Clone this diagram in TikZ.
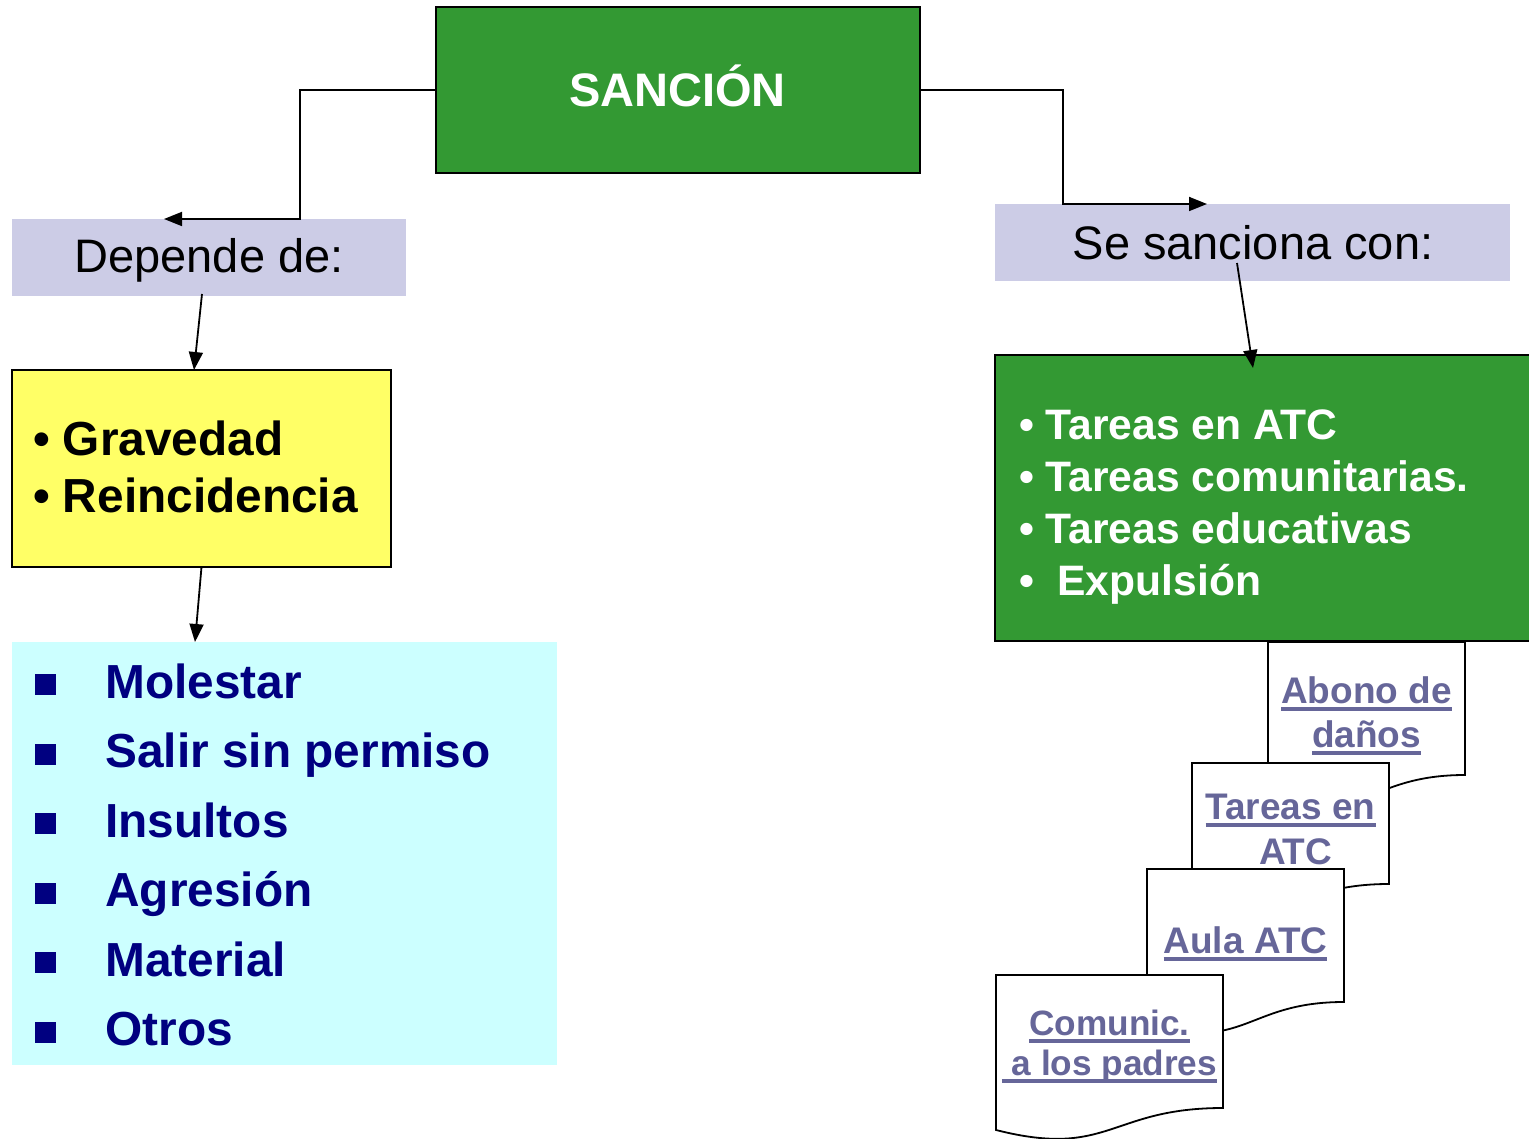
\documentclass[tikz,border=0pt]{standalone}
\usepackage{fontspec}
\setmainfont{Liberation Sans}
\usetikzlibrary{arrows.meta}
\definecolor{grn}{HTML}{339933}
\definecolor{lav}{HTML}{CCCCE6}
\definecolor{yel}{HTML}{FFFF66}
\definecolor{cyn}{HTML}{CCFFFF}
\definecolor{nvy}{HTML}{000080}
\definecolor{dtx}{HTML}{666699}
\newcommand\ulx[1]{\setbox0\hbox{#1}\rlap{\vrule height -4pt depth 7.5pt width \wd0}\box0}
\newcommand\sqb{\makebox[70.4pt][l]{\raisebox{3pt}{\rule{21pt}{21pt}}}}
\newcommand\fBig{\fontsize{47}{56}\selectfont}
\newcommand\fBld{\fontsize{47.8}{56}\selectfont}
\newcommand\fMid{\fontsize{42.6}{50}\selectfont}
\newcommand\fDoc{\fontsize{37}{44}\selectfont}
\newcommand\fDocS{\fontsize{35.2}{42}\selectfont}
\begin{document}
\begin{tikzpicture}[x=1pt,y=-1pt,
  boxst/.style={rectangle, inner sep=0pt, outer sep=0pt},
  edged/.style={draw=black, line width=1.8pt},
  arr/.style={draw=black, line width=1.8pt, -{Triangle[length=18pt,width=14pt]}},
  docsh/.style={draw=black, fill=white, line width=1.8pt},
  lbl/.style={inner sep=0pt, outer sep=0pt, anchor=base},
  lblw/.style={inner sep=0pt, outer sep=0pt, anchor=base west},
  doctxt/.style={lbl, text=dtx, font=\fDoc\bfseries}]
\useasboundingbox (0,0) rectangle (1529,1139);

% boxes
\node[boxst, edged, fill=grn, minimum width=484pt, minimum height=166pt] (sancion) at (678,90) {};
\node[lbl, text=white, font=\fBig\bfseries] (tsancion) at (677.5,107) {SANCIÓN};

\node[boxst, fill=lav, minimum width=394pt, minimum height=77pt] (dep) at (209,257.5) {};
\node[lbl, font=\fBig] (tdep) at (209,273) {Depende de:};

\node[boxst, fill=lav, minimum width=515pt, minimum height=77pt] (sec) at (1252.5,242.5) {};
\node[lbl, font=\fBig] (tsec) at (1253,260) {Se sanciona con:};

\node[boxst, edged, fill=yel, minimum width=379pt, minimum height=197pt] (yelb) at (201.5,468.5) {};
\node[lblw, font=\fBld\bfseries] (g1) at (33,455) {• Gravedad};
\node[lblw, font=\fBld\bfseries] (g2) at (33,512) {• Reincidencia};

\node[boxst, fill=cyn, minimum width=545pt, minimum height=423pt] (cyan) at (284.5,853.5) {};
\node[lblw, text=nvy, font=\fBld\bfseries] (c1) at (35,698) {\sqb Molestar};
\node[lblw, text=nvy, font=\fBld\bfseries] (c2) at (35,767.5) {\sqb Salir sin permiso};
\node[lblw, text=nvy, font=\fBld\bfseries] (c3) at (35,837) {\sqb Insultos};
\node[lblw, text=nvy, font=\fBld\bfseries] (c4) at (35,906.5) {\sqb Agresión};
\node[lblw, text=nvy, font=\fBld\bfseries] (c5) at (35,976) {\sqb Material};
\node[lblw, text=nvy, font=\fBld\bfseries] (c6) at (35,1045.5) {\sqb Otros};

\node[boxst, edged, fill=grn, minimum width=550pt, minimum height=286pt] (res) at (1270,498) {};
\node[lblw, text=white, font=\fMid\bfseries] (r1) at (1019,439) {• Tareas en ATC};
\node[lblw, text=white, font=\fMid\bfseries] (r2) at (1019,491) {• Tareas comunitarias.};
\node[lblw, text=white, font=\fMid\bfseries] (r3) at (1019,543) {• Tareas educativas};
\node[lblw, text=white, font=\fMid\bfseries] (r4) at (1019,595) {•\ \ Expulsión};

% documents
\draw[docsh] (1268,642) -- (1465,642) -- (1465,775) .. controls (1366.5,775) and (1366.5,825.8) .. (1268,797) -- cycle;
\node[doctxt] (d1a) at (1366.5,703) {\ulx{Abono de}};
\node[doctxt] (d1b) at (1366.5,747) {\ulx{daños}};

\draw[docsh] (1192,763) -- (1389,763) -- (1389,884) .. controls (1290.5,884) and (1290.5,930.2) .. (1192,904) -- cycle;
\node[doctxt] (d2a) at (1290.5,819) {\ulx{Tareas en}};
\node[doctxt] (d2b) at (1290.5,864) {\ulx{\ ATC}};

\draw[docsh] (1147,869) -- (1344,869) -- (1344,1002) .. controls (1245.5,1002) and (1245.5,1052.8) .. (1147,1024) -- cycle;
\node[doctxt] (d3a) at (1245.5,953) {\ulx{Aula ATC}};

\draw[docsh] (996,975) -- (1223,975) -- (1223,1108) .. controls (1109.5,1108) and (1109.5,1158.8) .. (996,1130) -- cycle;
\node[doctxt, font=\fDocS\bfseries] (d4a) at (1109.5,1035) {\ulx{Comunic.}};
\node[doctxt, font=\fDocS\bfseries] (d4b) at (1109.5,1075) {\ulx{\ a los padres}};

% connectors
\draw[arr] (sancion.west) -- ++(-136,0) |- ([xshift=-45pt]dep.north);
\draw[arr] (sancion.east) -- ++(143,0) |- ([xshift=-45.5pt]sec.north);
\draw[arr] ([xshift=-7pt,yshift=2pt]dep.south) -- ([xshift=-7.5pt]yelb.north);
\draw[arr] (yelb.south) -- ([xshift=-89.5pt]cyan.north);
\coordinate (sfrom) at (1237,263);
\draw[arr] (sfrom) -- ([xshift=-17pt,yshift=-13pt]res.north);
\end{tikzpicture}
\end{document}
